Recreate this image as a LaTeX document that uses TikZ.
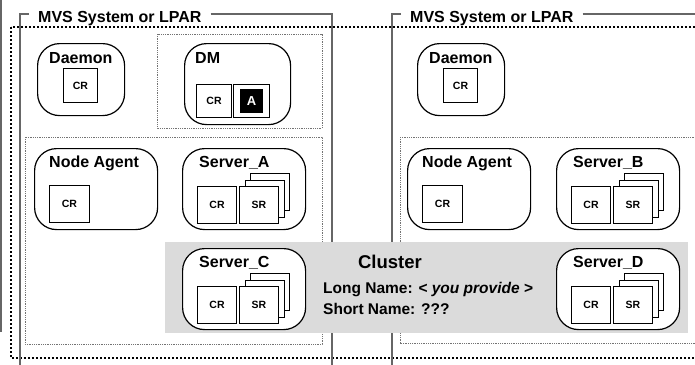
\documentclass[tikz,border=0pt]{standalone}
\usepackage{fontspec}
\setmainfont{Liberation Sans}
\tikzset{
  lpar/.style={draw=black!60, line width=2pt},
  lparlabel/.style={font=\fontsize{16}{18}\selectfont\bfseries, anchor=base west, inner xsep=9pt, inner ysep=0pt},
  sysline/.style={draw=black, line width=2.2pt, dash pattern=on 2.2pt off 1.8pt},
  area/.style={draw=black!55, line width=0.8pt, dash pattern=on 0.9pt off 0.9pt},
  proc/.style={draw, line width=1.2pt, rounded corners=22pt, fill=white, anchor=north west, inner sep=0pt},
  plabel/.style={font=\fontsize{16}{18}\selectfont\bfseries, anchor=base west, inner sep=0pt},
  reg/.style={draw, line width=1pt, fill=white, anchor=north west, inner sep=0pt,
    minimum width=39, minimum height=37, font=\fontsize{10.5}{12}\selectfont\bfseries},
  cltext/.style={font=\fontsize{15.5}{18}\selectfont\bfseries, anchor=base west, inner sep=0pt},
}
\begin{document}
\begin{tikzpicture}[x=1pt,y=-1pt]
    \path[use as bounding box] (0,0) rectangle (695,364);
    \clip (0,0) rectangle (695,364);
    % frames
    \draw[lpar] (1,0) -- (1,332);
    \draw[sysline] (11,27) rectangle (720,358);
    \node[lparlabel] (lparA) at (29,22) {MVS System or LPAR};
    \draw[lpar] (lparA.west |- 0,14) -- (20,14) -- (20,380);
    \draw[lpar] (lparA.east |- 0,14) -- (332,14) -- (332,380);
    \node[lparlabel] (lparB) at (401,22) {MVS System or LPAR};
    \draw[lpar] (lparB.west |- 0,14) -- (392,14) -- (392,380);
    \draw[lpar] (lparB.east |- 0,14) -- (720,14);
    \draw[area] (157,34) rectangle (322,128);
    \draw[area] (25,137) rectangle (322,344);
    \draw[area] (400,137) rectangle (720,343);
    % cluster
    \fill[black!14] (165,242) rectangle (688,333);
    \node[font=\fontsize{18.5}{22}\selectfont\bfseries, anchor=base, inner sep=0pt] (clname) at (390,268) {Cluster};
    \node[cltext] (cllong) at (323,293) {Long Name: < \textit{you provide} >};
    \node[cltext] (clshort) at (323,314) {Short Name: ???};
    % daemons
    \foreach \nm/\x in {A/37, B/417} {
      \node[proc, minimum width=87, minimum height=72] (dmn\nm) at (\x,43) {};
      \node[plabel] (dmn\nm lbl) at (\x+12,63) {Daemon};
      \node[reg, minimum width=34, minimum height=34] (dmn\nm cr) at (\x+26,68) {CR};
    }
    % deployment manager
    \node[proc, minimum width=106, minimum height=81] (dmgr) at (184,43) {};
    \node[plabel] (dmgrlbl) at (195,63) {DM};
    \node[reg, minimum width=35, minimum height=33] (dmgrcr) at (196,84) {CR};
    \node[reg, minimum width=36, minimum height=33] (dmgra) at (233,84) {};
    \node[fill=black, text=white, minimum width=23, minimum height=24, inner sep=0pt,
      font=\fontsize{13}{15}\selectfont\bfseries] (dmgrablk) at (dmgra.center) {A};
    % node agents
    \foreach \nm/\x in {A/34, B/407} {
      \node[proc, minimum width=123, minimum height=81] (nag\nm) at (\x,148) {};
      \node[plabel] (nag\nm lbl) at (\x+15,167) {Node Agent};
      \node[reg, minimum width=40] (nag\nm cr) at (\x+15,185) {CR};
    }
    % servers
    \foreach \nm/\x/\y in {A/182/148, C/182/248, B/556/148, D/556/248} {
      \node[proc, minimum width=123, minimum height=81] (srv\nm) at (\x,\y) {};
      \node[plabel] (srv\nm lbl) at (\x+17,\y+19) {Server\_\nm};
      \foreach \k in {2,1}
        \node[reg] (srv\nm sr\k) at (\x+57+5.5*\k,\y+38-6.5*\k) {};
      \node[reg] (srv\nm cr) at (\x+15,\y+38) {CR};
      \node[reg] (srv\nm sr) at (\x+57,\y+38) {SR};
    }
\end{tikzpicture}
\end{document}
